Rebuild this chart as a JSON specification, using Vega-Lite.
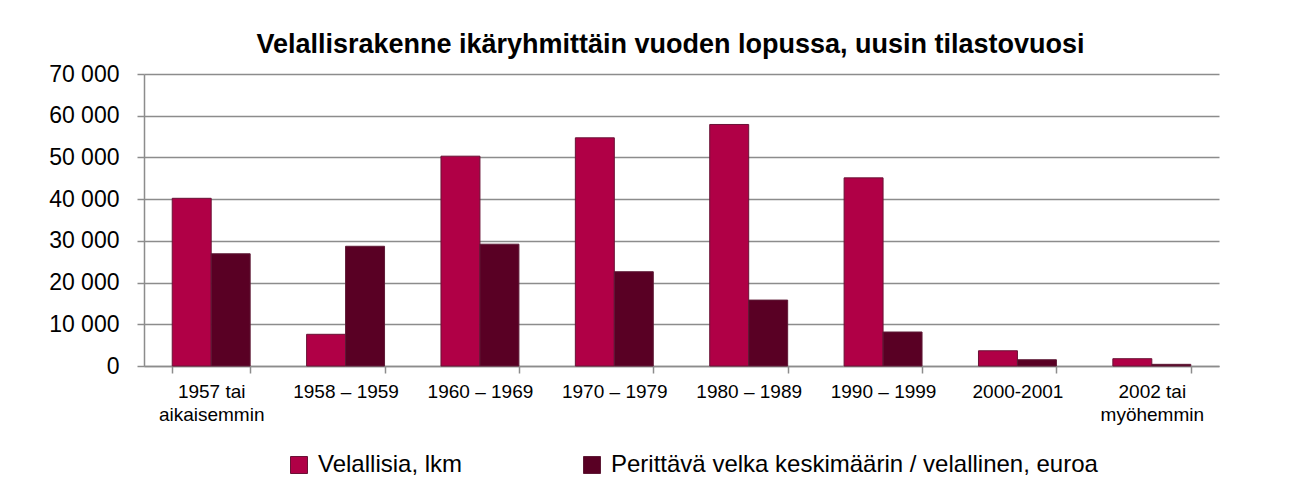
{
  "$schema": "https://vega.github.io/schema/vega-lite/v6.json",
  "width": 1075,
  "height": 292,
  "autosize": {"type": "none"},
  "padding": {"left": 144, "top": 74, "right": 73, "bottom": 126},
  "background": "white",
  "title": {
    "text": "Velallisrakenne ikäryhmittäin vuoden lopussa, uusin tilastovuosi",
    "font": "Liberation Sans",
    "fontSize": 27,
    "fontWeight": "bold",
    "color": "#000000",
    "baseline": "alphabetic",
    "frame": "group",
    "anchor": "middle",
    "offset": -17,
    "dx": -11
  },
  "data": {
    "values": [
      {"ikaryhma": "1957 tai aikaisemmin", "sarja": "Velallisia, lkm", "arvo": 40200},
      {"ikaryhma": "1957 tai aikaisemmin", "sarja": "Perittävä velka keskimäärin / velallinen, euroa", "arvo": 26900},
      {"ikaryhma": "1958 – 1959", "sarja": "Velallisia, lkm", "arvo": 7600},
      {"ikaryhma": "1958 – 1959", "sarja": "Perittävä velka keskimäärin / velallinen, euroa", "arvo": 28700},
      {"ikaryhma": "1960 – 1969", "sarja": "Velallisia, lkm", "arvo": 50300},
      {"ikaryhma": "1960 – 1969", "sarja": "Perittävä velka keskimäärin / velallinen, euroa", "arvo": 29200},
      {"ikaryhma": "1970 – 1979", "sarja": "Velallisia, lkm", "arvo": 54700},
      {"ikaryhma": "1970 – 1979", "sarja": "Perittävä velka keskimäärin / velallinen, euroa", "arvo": 22600},
      {"ikaryhma": "1980 – 1989", "sarja": "Velallisia, lkm", "arvo": 57900},
      {"ikaryhma": "1980 – 1989", "sarja": "Perittävä velka keskimäärin / velallinen, euroa", "arvo": 15800},
      {"ikaryhma": "1990 – 1999", "sarja": "Velallisia, lkm", "arvo": 45100},
      {"ikaryhma": "1990 – 1999", "sarja": "Perittävä velka keskimäärin / velallinen, euroa", "arvo": 8150},
      {"ikaryhma": "2000-2001", "sarja": "Velallisia, lkm", "arvo": 3650},
      {"ikaryhma": "2000-2001", "sarja": "Perittävä velka keskimäärin / velallinen, euroa", "arvo": 1500},
      {"ikaryhma": "2002 tai myöhemmin", "sarja": "Velallisia, lkm", "arvo": 1750},
      {"ikaryhma": "2002 tai myöhemmin", "sarja": "Perittävä velka keskimäärin / velallinen, euroa", "arvo": 400}
    ]
  },
  "mark": {"type": "bar", "strokeWidth": 1},
  "encoding": {
    "x": {
      "field": "ikaryhma",
      "type": "nominal",
      "sort": null,
      "scale": {"paddingInner": 0.42, "paddingOuter": 0.21},
      "axis": {
        "title": null,
        "labelAngle": 0,
        "tickBand": "extent",
        "domainColor": "#8c8c8c",
        "domainWidth": 1.5,
        "tickColor": "#8c8c8c",
        "tickWidth": 1.5,
        "tickSize": 7,
        "labelFont": "Liberation Sans",
        "labelFontSize": 19,
        "labelColor": "#000000",
        "labelPadding": 9,
        "labelLineHeight": 23,
        "labelLimit": 200,
        "labelExpr": "indexof(datum.label, ' tai ') > 0 ? [split(datum.label, ' tai ')[0] + ' tai', split(datum.label, ' tai ')[1]] : datum.label"
      }
    },
    "xOffset": {
      "field": "sarja",
      "type": "nominal",
      "sort": ["Velallisia, lkm", "Perittävä velka keskimäärin / velallinen, euroa"],
      "scale": {"paddingInner": 0, "paddingOuter": 0}
    },
    "y": {
      "field": "arvo",
      "type": "quantitative",
      "scale": {"domain": [0, 70000], "nice": false},
      "axis": {
        "title": null,
        "values": [0, 10000, 20000, 30000, 40000, 50000, 60000, 70000],
        "gridColor": "#8c8c8c",
        "gridWidth": 1.5,
        "domainColor": "#8c8c8c",
        "domainWidth": 1.5,
        "tickColor": "#8c8c8c",
        "tickWidth": 1.5,
        "tickSize": 7,
        "labelFont": "Liberation Sans",
        "labelFontSize": 23,
        "labelColor": "#000000",
        "labelPadding": 18,
        "labelExpr": "replace(format(datum.value, ','), ',', ' ')"
      }
    },
    "color": {
      "field": "sarja",
      "type": "nominal",
      "scale": {
        "domain": ["Velallisia, lkm", "Perittävä velka keskimäärin / velallinen, euroa"],
        "range": ["#b00046", "#590024"]
      },
      "legend": {
        "orient": "none",
        "legendX": 143,
        "legendY": 379,
        "direction": "horizontal",
        "title": null,
        "symbolType": "square",
        "symbolSize": 289,
        "symbolStrokeWidth": 1,
        "labelFont": "Liberation Sans",
        "labelFontSize": 24,
        "labelColor": "#000000",
        "labelLimit": 1000,
        "labelOffset": 7,
        "columnPadding": 117
      }
    },
    "stroke": {
      "field": "sarja",
      "type": "nominal",
      "scale": {
        "domain": ["Velallisia, lkm", "Perittävä velka keskimäärin / velallinen, euroa"],
        "range": ["#6a1236", "#5e1a36"]
      },
      "legend": null
    }
  },
  "config": {
    "view": {"stroke": null}
  }
}
